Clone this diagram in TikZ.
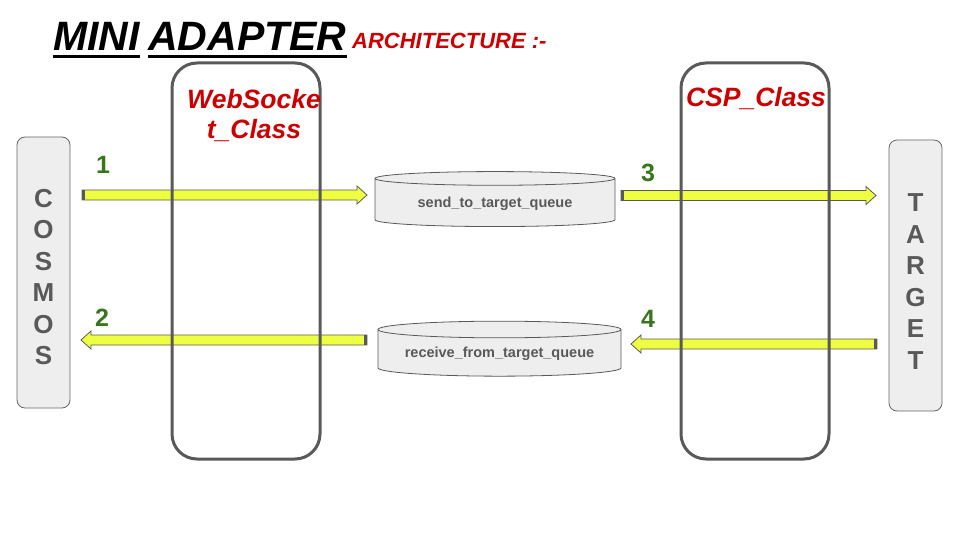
\documentclass[tikz,border=0pt]{standalone}
\usepackage{fontspec}
\setmainfont{Liberation Sans}
\usetikzlibrary{calc}
\usetikzlibrary{positioning}
\usetikzlibrary{shapes.geometric}

\definecolor{boxgray}{HTML}{EEEEEE}
\definecolor{linegray}{HTML}{666666}
\definecolor{textgray}{HTML}{595959}
\definecolor{flowyellow}{HTML}{EEFF41}
\definecolor{stepgreen}{HTML}{38761D}
\definecolor{titlered}{HTML}{CC0000}

\tikzset{
  endbox/.style={draw=linegray, fill=boxgray, line width=0.8, rounded corners=8,
    minimum width=53, minimum height=271},
  endname/.style={align=center, text=textgray, inner sep=0,
    font=\fontsize{26}{31.5}\selectfont\bfseries},
  classcol/.style={draw=textgray, line width=3, rounded corners=25,
    minimum width=148, minimum height=396},
  classname/.style={text=titlered, inner sep=0, align=center,
    font=\fontsize{26.5}{30}\selectfont\bfseries\itshape},
  queue/.style={cylinder, shape border rotate=90, draw=textgray, fill=boxgray,
    line width=0.8, aspect=0.085, text=textgray, font=\fontsize{14.5}{16}\selectfont\bfseries},
  stepnum/.style={text=stepgreen, font=\fontsize{25}{28}\selectfont\bfseries},
  flowbody/.style={draw=textgray, fill=flowyellow, line width=0.8},
  flowtail/.style={fill=textgray},
}

% tail, head, direction (1 right, -1 left)
\newcommand{\flowarrow}[3]{%
  \draw[flowbody] let \p1=(#1), \p2=(#2) in
    (\x1,{\y1+5}) -- ({\x2-(#3)*10},{\y1+5}) -- ({\x2-(#3)*10},{\y1+9}) -- (\x2,\y1)
    -- ({\x2-(#3)*10},{\y1-9}) -- ({\x2-(#3)*10},{\y1-5}) -- (\x1,{\y1-5}) -- cycle;
  \fill[flowtail] let \p1=(#1) in (\x1,{\y1-5}) rectangle ({\x1+(#3)*3},{\y1+5});
}

\begin{document}
\begin{tikzpicture}[x=1pt, y=-1pt]
    \useasboundingbox (0,0) rectangle (960,540);

    % title
    \node [anchor=base west, inner sep=0, font=\fontsize{41}{46}\selectfont\bfseries\itshape] (mini) at (53,51) {MINI};
    \node [anchor=base west, inner sep=0, font=\fontsize{41}{46}\selectfont\bfseries\itshape] (adapter) at (148,51) {ADAPTER};
    \node [anchor=base west, inner sep=0, text=titlered, font=\fontsize{22}{26}\selectfont\bfseries\itshape] (arch) at (352,49) {ARCHITECTURE :-};
    \draw [line width=3] ([yshift=-6]mini.base west) -- ([yshift=-6]mini.base east);
    \draw [line width=3] ([yshift=-6]adapter.base west) -- ([yshift=-6]adapter.base east);

    % end points
    \node [endbox] (cosmos) at (43.5,272.5) {};
    \node [endbox] (target) at (915.5,275.5) {};
    \node [endname] (cosmosname) at (43.5,277) {C\\O\\S\\M\\O\\S};
    \node [endname] (targetname) at (915.5,281.5) {T\\A\\R\\G\\E\\T};

    % queues
    \node [queue, minimum width=240, minimum height=55] (sendq) at (495,203.5) {send\_to\_target\_queue};
    \node [queue, minimum width=243, minimum height=55] (recvq) at (499.5,354) {receive\_from\_target\_queue};

    % arrows
    \coordinate (a1tail) at (82,195);
    \coordinate (a1head) at (367,195);
    \coordinate (a2tail) at (367,340);
    \coordinate (a2head) at (81,340);
    \coordinate (a3tail) at (621,195.5);
    \coordinate (a3head) at (876,195.5);
    \coordinate (a4tail) at (877,344);
    \coordinate (a4head) at (631,344);
    \flowarrow{a1tail}{a1head}{1}
    \flowarrow{a2tail}{a2head}{-1}
    \flowarrow{a3tail}{a3head}{1}
    \flowarrow{a4tail}{a4head}{-1}

    \node [stepnum] (n1) at (103,165) {1};
    \node [stepnum] (n2) at (102,318) {2};
    \node [stepnum] (n3) at (648,173) {3};
    \node [stepnum] (n4) at (648,319) {4};

    % classes
    \node [classcol] (wscol) at (246,261) {};
    \node [classcol] (cspcol) at (755,261) {};
    \node [classname] (wsname) at (254,115.5) {WebSocke\\t\_Class};
    \node [classname, anchor=base] (cspname) at (756,107) {CSP\_Class};
\end{tikzpicture}
\end{document}
